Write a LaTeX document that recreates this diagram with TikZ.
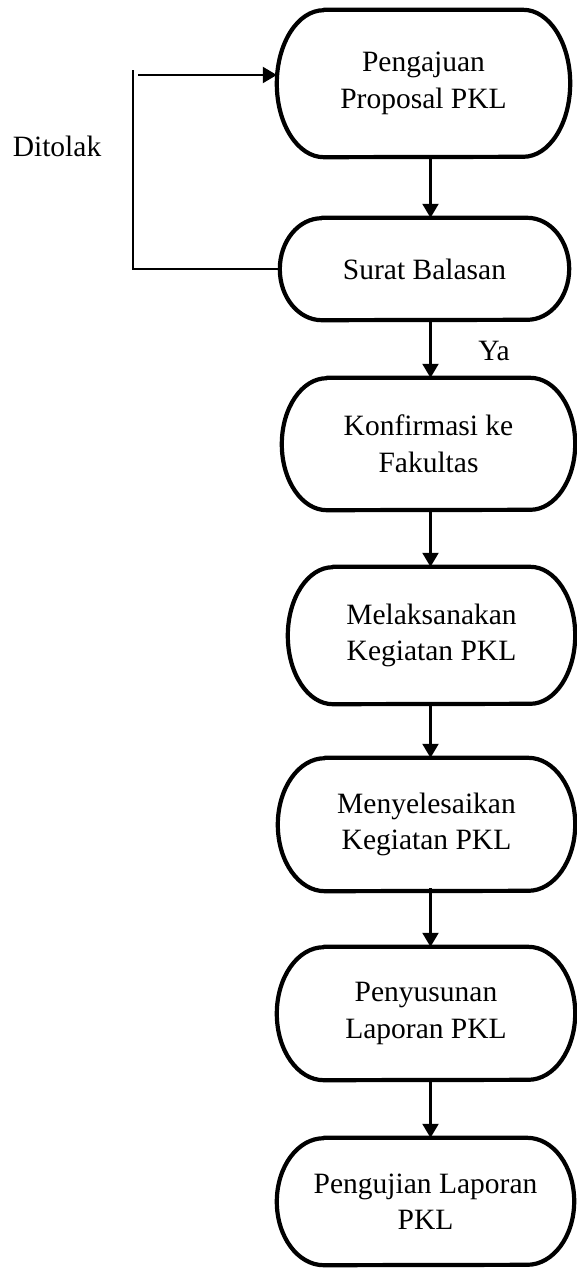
\documentclass[tikz,border=0pt]{standalone}
\usepackage{fontspec}
\setmainfont{Liberation Serif}
\usetikzlibrary{arrows.meta,calc}
\tikzset{
  term/.style={draw=none, inner sep=0pt, align=center, font=\fontsize{29.5}{36.5}\selectfont},
  termline/.style={line width=4.2pt, line join=round},
  flow/.style={line width=2.2pt, -{Triangle[length=14pt,width=16pt]}},
  back/.style={line width=1.4pt},
  lbl/.style={font=\fontsize{29.5}{36.5}\selectfont, inner sep=0pt, anchor=base},
}
% #1 node name, #2 horizontal radius, #3 vertical radius (half height)
\newcommand\termshape[3]{%
  \draw[termline] ([xshift=#2]#1.north west) -- ([xshift=-#2]#1.north east)
    arc[start angle=90, end angle=-90, x radius=#2, y radius=#3]
    -- ([xshift=#2]#1.south west)
    arc[start angle=270, end angle=90, x radius=#2, y radius=#3] -- cycle;}
\begin{document}
\begin{tikzpicture}[x=1pt,y=1pt]
\useasboundingbox (0,0) rectangle (577,-1271);
\node[term, minimum width=293pt, minimum height=147pt] (b1) at (423.5,-83.5) {Pengajuan\\Proposal PKL};
\node[term, minimum width=289pt, minimum height=102pt] (b2) at (424.5,-269) {Surat Balasan};
\node[term, minimum width=293pt, minimum height=132pt] (b3) at (428.5,-444) {Konfirmasi ke\\Fakultas};
\node[term, minimum width=287pt, minimum height=137pt] (b4) at (431.5,-635.5) {Melaksanakan\\Kegiatan PKL};
\node[term, minimum width=297pt, minimum height=133pt] (b5) at (426.5,-824.5) {Menyelesaikan\\Kegiatan PKL};
\node[term, minimum width=298pt, minimum height=133pt] (b6) at (426,-1013.5) {Penyusunan\\Laporan PKL};
\node[term, minimum width=297pt, minimum height=127pt] (b7) at (425.5,-1201.5) {Pengujian Laporan\\PKL};
\termshape{b1}{47pt}{73.5pt}
\termshape{b2}{42pt}{51pt}
\termshape{b3}{45pt}{66pt}
\termshape{b4}{45pt}{68.5pt}
\termshape{b5}{47pt}{66.5pt}
\termshape{b6}{47pt}{66.5pt}
\termshape{b7}{47pt}{63.5pt}
\node[lbl] (ditolak) at (57,-157) {Ditolak};
\node[lbl] (ya) at (494,-360) {Ya};
\coordinate (ax) at (430.5,0);
\draw[flow] (b1.south -| ax) -- (b2.north -| ax);
\draw[flow] (b2.south -| ax) -- (b3.north -| ax);
\draw[flow] (b3.south -| ax) -- (b4.north -| ax);
\draw[flow] (b4.south -| ax) -- (b5.north -| ax);
\draw[flow] ([yshift=3pt]b5.south -| ax) -- (b6.north -| ax);
\draw[flow] (b6.south -| ax) -- (b7.north -| ax);
\coordinate (fbb) at (133,-269);
\coordinate (fbt) at (133,-70);
\coordinate (fbs) at (138,-75);
\draw[back] (b2.west) -- (fbb) -- (fbt);
\draw[flow] (fbs) -- (fbs -| b1.west);
\end{tikzpicture}
\end{document}
